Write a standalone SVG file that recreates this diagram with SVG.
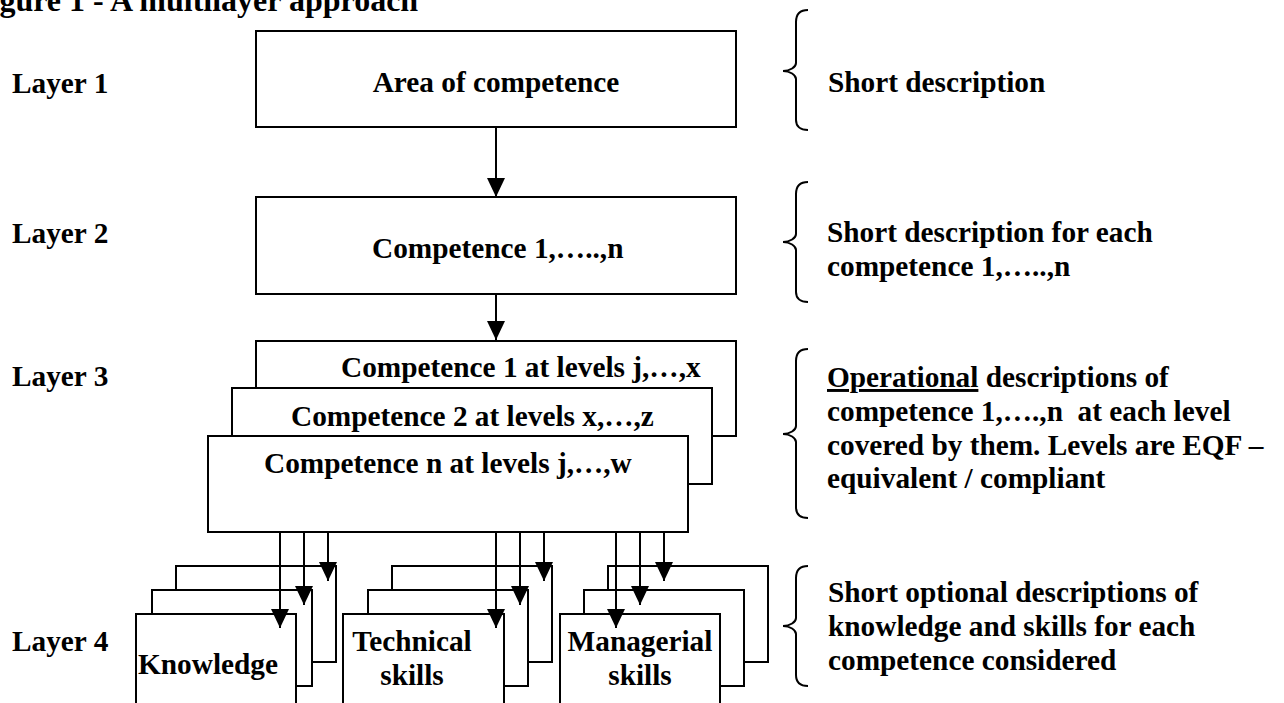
<svg xmlns="http://www.w3.org/2000/svg" width="1284" height="703" viewBox="0 0 1284 703">
<style>
.t{font-family:"Liberation Serif","Times New Roman",serif;font-weight:bold;font-size:29.3px;fill:#000}
.title{font-size:32px}
.box{fill:#fff;stroke:#000;stroke-width:2}
.conn line{stroke:#000;stroke-width:2;fill:none;marker-end:url(#ah)}
.brace{fill:none;stroke:#000;stroke-width:2}
.m{text-anchor:middle}
</style>
<defs>
<marker id="ah" markerUnits="userSpaceOnUse" viewBox="0 0 19 18" markerWidth="19" markerHeight="18" refX="19" refY="9" orient="auto">
<path d="M0,0 L19,9 L0,18 Z" fill="#000"/>
</marker>
</defs>
<rect width="1284" height="703" fill="#fff"/>
<text class="t title" x="-29" y="11">Figure 1 - A multilayer approach</text>

<g id="layer-labels">
<text class="t" x="12" y="93">Layer 1</text>
<text class="t" x="12" y="243">Layer 2</text>
<text class="t" x="12" y="386">Layer 3</text>
<text class="t" x="12" y="651">Layer 4</text>
</g>

<g id="area">
<rect class="box" x="256" y="31" width="480" height="96"/>
<text class="t m" x="496" y="92">Area of competence</text>
</g>
<g id="competence">
<rect class="box" x="256" y="197" width="480" height="97"/>
<text class="t" x="372" y="258">Competence 1,…..,n</text>
</g>
<g id="competence-levels">
<rect class="box" x="256" y="341" width="480" height="95"/>
<text class="t" x="341" y="377">Competence 1 at levels j,…,x</text>
<rect class="box" x="232" y="388" width="480" height="96"/>
<text class="t" x="291" y="426">Competence 2 at levels x,…,z</text>
<rect class="box" x="208" y="436" width="480" height="96"/>
<text class="t" x="264" y="473">Competence n at levels j,…,w</text>
</g>

<g id="knowledge">
<rect class="box" x="176" y="566" width="160" height="96"/>
<rect class="box" x="152" y="590" width="160" height="96"/>
<rect class="box" x="136" y="614" width="160" height="96"/>
<text class="t" x="138" y="674">Knowledge</text>
</g>
<g id="technical">
<rect class="box" x="392" y="566" width="160" height="96"/>
<rect class="box" x="368" y="590" width="160" height="96"/>
<rect class="box" x="343" y="614" width="161" height="96"/>
<text class="t m" x="412" y="651">Technical</text>
<text class="t m" x="412" y="685">skills</text>
</g>
<g id="managerial">
<rect class="box" x="608" y="566" width="160" height="96"/>
<rect class="box" x="584" y="590" width="160" height="96"/>
<rect class="box" x="560" y="614" width="160" height="96"/>
<text class="t m" x="640" y="651">Managerial</text>
<text class="t m" x="640" y="685">skills</text>
</g>

<g id="connectors" class="conn">
<line x1="496" y1="127" x2="496" y2="197"/>
<line x1="496" y1="294" x2="496" y2="340"/>
<line x1="280" y1="532" x2="280" y2="628"/>
<line x1="304" y1="532" x2="304" y2="605"/>
<line x1="328" y1="532" x2="328" y2="581"/>
<line x1="496" y1="532" x2="496" y2="628"/>
<line x1="520" y1="532" x2="520" y2="605"/>
<line x1="544" y1="532" x2="544" y2="581"/>
<line x1="616" y1="532" x2="616" y2="628"/>
<line x1="640" y1="532" x2="640" y2="605"/>
<line x1="664" y1="532" x2="664" y2="581"/>
</g>

<g id="desc1">
<path class="brace" d="M808,10 C800,10 796,14 796,22 L796,63 C796,67 790,71 783,71 C790,71 796,75 796,79 L796,120 C796,126 800,130 808,130"/>
<text class="t" x="828" y="92">Short description</text>
</g>
<g id="desc2">
<path class="brace" d="M808,182 C800,182 796,186 796,194 L796,234 C796,238 790,242 783,242 C790,242 796,246 796,250 L796,292 C796,298 800,302 808,302"/>
<text class="t" x="827" y="242">Short description for each</text>
<text class="t" x="827" y="276">competence 1,…..,n</text>
</g>
<g id="desc3">
<path class="brace" d="M808,349 C800,349 796,353 796,361 L796,426 C796,430 790,434 783,434 C790,434 796,438 796,442 L796,507 C796,514 800,518 808,518"/>
<text class="t" x="827" y="387"><tspan text-decoration="underline">Operational</tspan> descriptions of</text>
<text class="t" x="827" y="421" xml:space="preserve">competence 1,….,n  at each level</text>
<text class="t" x="827" y="455">covered by them. Levels are EQF –</text>
<text class="t" x="827" y="488">equivalent / compliant</text>
</g>
<g id="desc4">
<path class="brace" d="M808,566 C800,566 796,570 796,578 L796,618 C796,622 790,626 783,626 C790,626 796,630 796,634 L796,675 C796,682 800,686 808,686"/>
<text class="t" x="828" y="602">Short optional descriptions of</text>
<text class="t" x="828" y="636">knowledge and skills for each</text>
<text class="t" x="828" y="670">competence considered</text>
</g>
</svg>
